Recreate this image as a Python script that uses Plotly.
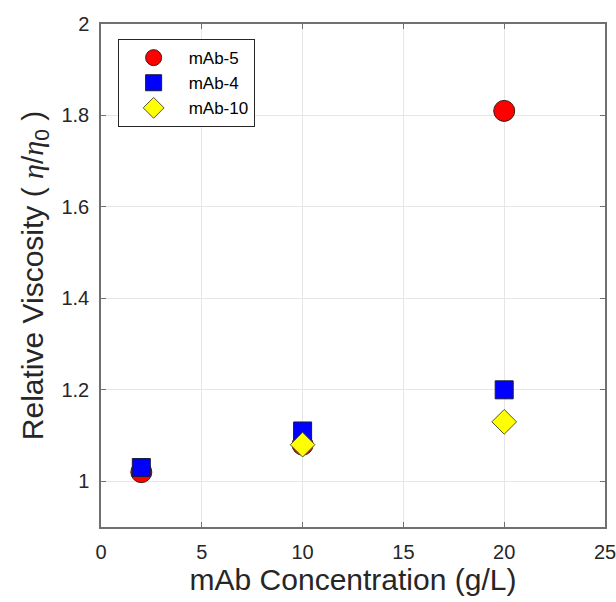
import plotly.graph_objects as go

conc_5 = [2, 10, 20]
visc_5 = [1.02, 1.08, 1.81]
conc_4 = [2, 10, 20]
visc_4 = [1.03, 1.11, 1.20]
conc_10 = [10, 20]
visc_10 = [1.08, 1.13]

x_ticks = [0, 5, 10, 15, 20, 25]
y_ticks = [1, 1.2, 1.4, 1.6, 1.8, 2]
y_tick_text = ["1", "1.2", "1.4", "1.6", "1.8", "2"]

fig = go.Figure()
fig.add_trace(go.Scatter(x=conc_5, y=visc_5, mode="markers", name="mAb-5",
                         marker=dict(symbol="circle", size=21, color="#ff0000",
                                     line=dict(color="#3a1a1a", width=1))))
fig.add_trace(go.Scatter(x=conc_4, y=visc_4, mode="markers", name="mAb-4",
                         marker=dict(symbol="square", size=18, color="#0000ff",
                                     line=dict(color="#1a1a3a", width=1))))
fig.add_trace(go.Scatter(x=conc_10, y=visc_10, mode="markers", name="mAb-10",
                         marker=dict(symbol="diamond", size=19, color="#ffff00",
                                     line=dict(color="#555533", width=1))))

axis_common = dict(
    showline=True, linecolor="#707070", linewidth=1.5, mirror="ticks",
    ticks="inside", ticklen=5, tickcolor="#707070",
    showgrid=True, gridcolor="#e6e6e6", gridwidth=1, zeroline=False,
    tickfont=dict(family="Arial, Liberation Sans", size=20, color="#262626"),
    ticklabelstandoff=6, automargin=False, ticklabeloverflow="allow",
)

eta = '<span style="font-family:Liberation Serif, DejaVu Serif; font-style:italic">η</span>'
y_title = "Relative Viscosity ( " + eta + "/" + eta + "<sub>0</sub> )"

fig.update_layout(
    width=616, height=602,
    margin=dict(l=101, r=11, t=24, b=75),
    paper_bgcolor="white", plot_bgcolor="white",
    font=dict(family="Arial, Liberation Sans", color="#262626"),
    xaxis=dict(range=[0, 25], tickvals=x_ticks,
               title=dict(text="mAb Concentration (g/L)",
                          font=dict(size=30, color="#262626"), standoff=3),
               **axis_common),
    yaxis=dict(range=[0.9, 2], tickvals=y_ticks, ticktext=y_tick_text,
               title=dict(text=y_title,
                          font=dict(size=30, color="#262626"), standoff=9),
               **axis_common),
    legend=dict(x=0.033, y=0.97, xanchor="left", yanchor="top",
                bgcolor="white", bordercolor="#262626", borderwidth=1,
                font=dict(size=17, color="#000000"),
                itemwidth=60, tracegroupgap=0),
    showlegend=True,
)

fig.write_html("out.html")
